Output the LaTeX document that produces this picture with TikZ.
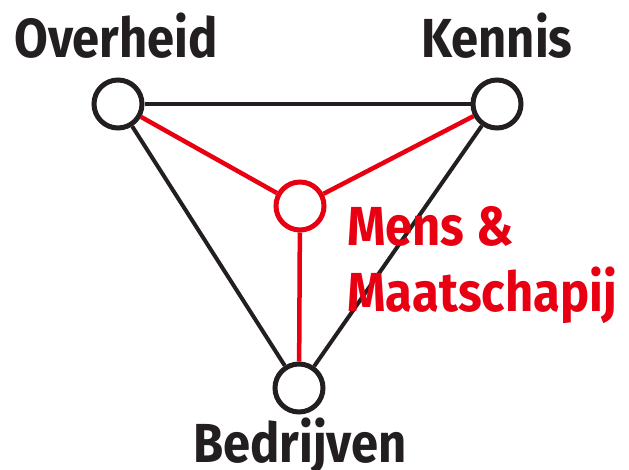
\documentclass[tikz,border=0pt]{standalone}
\usepackage{fontspec}
\setmainfont{Fira Sans}[FakeStretch=0.89]
\definecolor{ink}{RGB}{35,31,32}
\definecolor{myred}{RGB}{232,0,18}
\tikzset{
  hub/.style={circle, draw=ink, line width=5pt, minimum size=48pt, inner sep=0pt, fill=white},
  redhub/.style={hub, draw=myred},
  blackline/.style={draw=ink, line width=4pt},
  redline/.style={draw=myred, line width=4.5pt},
  lbl/.style={font=\fontsize{55}{55}\selectfont\bfseries, text=ink, inner sep=0pt, anchor=base},
  redlbl/.style={lbl, text=myred, anchor=base west}
}
\begin{document}
\begin{tikzpicture}[x=1pt,y=-1pt]
\useasboundingbox (0,0) rectangle (629,470);
\node[hub] (o) at (118,104) {};
\node[hub] (k) at (497,104) {};
\node[redhub] (m) at (300,206) {};
\node[hub] (b) at (299,388) {};
\draw[blackline] (o) -- (k);
\draw[blackline] (o) -- (b);
\draw[blackline] (k) -- (b);
\draw[redline] (m) -- (o);
\draw[redline] (m) -- (k);
\draw[redline] (m) -- (b);
\node[lbl] (to) at (116,58) {Overheid};
\node[lbl] (tk) at (497,58) {Kennis};
\node[lbl] (tb) at (300,462) {Bedrijven};
\node[redlbl] (tm1) at (347,246) {Mens \&};
\node[redlbl] (tm2) at (347,312) {Maatschapij};
\end{tikzpicture}
\end{document}
